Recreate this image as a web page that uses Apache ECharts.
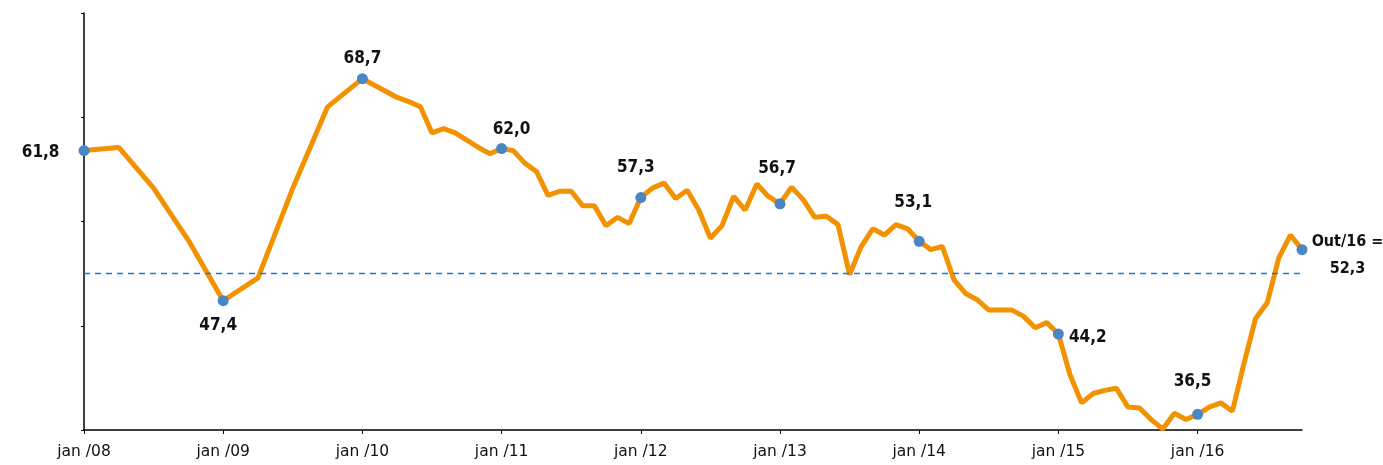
<!DOCTYPE html>
<html>
<head>
<meta charset="utf-8">
<script src="https://cdn.jsdelivr.net/npm/echarts@6/dist/echarts.min.js"></script>
<style>
  html, body { margin: 0; padding: 0; background: #fff; }
  #chart { width: 1383px; height: 465px; }
</style>
</head>
<body>
<div id="chart"></div>
<script>
// meses do eixo x (jan/08 ate out/16)
const monthNames = ['jan', 'fev', 'mar', 'abr', 'mai', 'jun', 'jul', 'ago', 'set', 'out', 'nov', 'dez'];
const years = ['08', '09', '10', '11', '12', '13', '14', '15', '16'];

// valores mensais (null = sem dado, 2008/09 trimestral)
const values2008 = [61.8, null, null, 62.1, null, null, 58.2, null, null, 53.2, null, null];
const values2009 = [47.4, null, null, 49.6, null, null, 58.2, null, null, 66.0, null, null];
const values2010 = [68.7, null, null, 66.9, 66.5, 66.0, 63.5, 63.9, 63.5, 62.8, 62.1, 61.5];
const values2011 = [62.0, 61.8, 60.6, 59.8, 57.5, 57.9, 57.9, 56.5, 56.5, 54.6, 55.4, 54.8];
const values2012 = [57.3, 58.2, 58.7, 57.2, 58.0, 56.1, 53.4, 54.6, 57.4, 56.1, 58.6, 57.4];
const values2013 = [56.7, 58.3, 57.1, 55.4, 55.5, 54.7, 49.9, 52.6, 54.3, 53.7, 54.7, 54.3];
const values2014 = [53.1, 52.3, 52.6, 49.4, 48.1, 47.5, 46.5, 46.5, 46.5, 45.9, 44.8, 45.3];
const values2015 = [44.2, 40.3, 37.6, 38.5, 38.8, 39.0, 37.2, 37.1, 36.0, 35.1, 36.6, 36.0];
const values2016 = [36.5, 37.2, 37.6, 36.8, 41.4, 45.7, 47.2, 51.5, 53.7, 52.3];

// linha de referencia (50)
const refLine = 50;
// pontos com marcador e rotulo
const labeledPoints = [0, 12, 24, 36, 48, 60, 72, 84, 96, 105];

const values = [].concat(values2008, values2009, values2010, values2011, values2012,
  values2013, values2014, values2015, values2016);
const categories = [];
years.forEach(y => monthNames.forEach(m => categories.push(m + '/' + y)));
categories.length = values.length;

const fmt = v => v.toFixed(1).replace('.', ',');

// posicao dos rotulos de cada ponto
const labelCfg = {
  0:   { position: 'left', distance: 19, offset: [0, 2] },
  12:  { position: 'bottom', distance: 11, offset: [-5, 0] },
  24:  { position: 'top', distance: 6, offset: [0, 0] },
  36:  { position: 'top', distance: 5, offset: [10, 0] },
  48:  { position: 'top', distance: 16, offset: [-5, 0] },
  60:  { position: 'top', distance: 21, offset: [-3, 0] },
  72:  { position: 'top', distance: 25, offset: [-6, 0] },
  84:  { position: 'right', distance: 5, offset: [0, 3] },
  96:  { position: 'top', distance: 19, offset: [-5, 0] },
  105: { position: 'right', distance: 40, offset: [0, 6], align: 'center', lineHeight: 27, fontSize: 16 }
};

const seriesData = values.map((v, i) => {
  if (!labeledPoints.includes(i)) {
    return { value: v, symbolSize: 0 };
  }
  const text = i === values.length - 1 ? 'Out/16 =\n' + fmt(v) : fmt(v);
  return {
    value: v,
    symbolSize: 11,
    label: Object.assign({ show: true, formatter: text }, labelCfg[i])
  };
});

const chart = echarts.init(document.getElementById('chart'));
chart.setOption({
  animation: false,
  grid: { left: 84, right: 81, top: 13, bottom: 35 },
  xAxis: {
    type: 'category',
    boundaryGap: false,
    data: categories,
    axisLine: { lineStyle: { color: '#000', width: 1.5 } },
    axisTick: { interval: 11, length: 4, lineStyle: { color: '#000' } },
    axisLabel: {
      interval: 11,
      margin: 14,
      color: '#111',
      fontFamily: 'DejaVu Sans',
      fontSize: 15.5,
      formatter: v => v.replace('/', ' /')
    }
  },
  yAxis: {
    type: 'value',
    min: 35,
    max: 75,
    axisLine: { show: true, lineStyle: { color: '#000', width: 1.5 } },
    axisTick: { show: true, length: 3, customValues: [35, 45, 55, 65, 75], lineStyle: { color: '#000' } },
    axisLabel: { show: false },
    splitLine: { show: false }
  },
  series: [{
    type: 'line',
    data: seriesData,
    connectNulls: true,
    showAllSymbol: true,
    symbol: 'circle',
    itemStyle: { color: '#4a86c1' },
    lineStyle: { color: '#f39200', width: 5 },
    label: {
      color: '#111',
      fontFamily: '"DejaVu Sans Condensed", sans-serif',
      fontWeight: 'bold',
      fontSize: 17
    },
    markLine: {
      silent: true,
      symbol: 'none',
      label: { show: false },
      lineStyle: { color: '#1c7bd0', type: [6, 5], width: 1.3 },
      data: [{ yAxis: refLine }]
    },
    z: 3
  }]
});
</script>
</body>
</html>
